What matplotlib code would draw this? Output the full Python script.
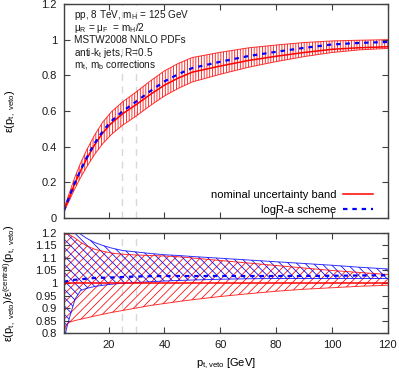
import matplotlib
matplotlib.use("Agg")
import matplotlib.pyplot as plt

plt.rcParams['font.family'] = ['Liberation Sans', 'DejaVu Sans']
plt.rcParams['mathtext.default'] = 'regular'
plt.rcParams['hatch.linewidth'] = 0.55

# -------------------------------
# DATA
# -------------------------------
pt = [4, 5, 6, 8, 10, 12, 15, 18, 21, 25, 30, 35, 40, 45, 50, 60, 70, 80, 90, 100, 110, 120]

# top panel: jet-veto efficiency
eff_central = [0.040, 0.080, 0.118, 0.196, 0.265, 0.327, 0.410, 0.478, 0.531, 0.584, 0.637,
               0.693, 0.745, 0.785, 0.818, 0.852, 0.883, 0.907, 0.928, 0.946, 0.955, 0.960]
eff_hi = [0.048, 0.096, 0.141, 0.231, 0.308, 0.376, 0.465, 0.539, 0.595, 0.651, 0.708,
          0.769, 0.825, 0.867, 0.900, 0.929, 0.954, 0.970, 0.984, 0.993, 0.997, 1.000]
eff_lo = [0.032, 0.067, 0.099, 0.167, 0.227, 0.281, 0.356, 0.418, 0.468, 0.520, 0.573,
          0.631, 0.684, 0.727, 0.763, 0.806, 0.845, 0.877, 0.905, 0.928, 0.943, 0.951]
eff_logra = [0.040, 0.081, 0.119, 0.199, 0.269, 0.333, 0.418, 0.488, 0.543, 0.598, 0.654,
             0.712, 0.766, 0.807, 0.841, 0.876, 0.908, 0.932, 0.954, 0.973, 0.982, 0.987]

# bottom panel: ratio to central
ratio_hi = [1.195, 1.195, 1.193, 1.180, 1.163, 1.150, 1.135, 1.127, 1.120, 1.115, 1.112,
            1.110, 1.108, 1.105, 1.100, 1.090, 1.080, 1.070, 1.060, 1.050, 1.042, 1.034]
ratio_lo = [0.800, 0.835, 0.843, 0.850, 0.855, 0.860, 0.868, 0.875, 0.882, 0.890, 0.900,
            0.910, 0.918, 0.926, 0.933, 0.946, 0.957, 0.967, 0.975, 0.981, 0.987, 0.991]
logra_hi = [1.400, 1.330, 1.280, 1.220, 1.195, 1.180, 1.162, 1.150, 1.140, 1.130, 1.124,
            1.118, 1.113, 1.110, 1.106, 1.099, 1.092, 1.085, 1.078, 1.071, 1.063, 1.056]
logra_lo = [0.760, 0.820, 0.860, 0.935, 0.970, 0.978, 0.986, 0.991, 0.995, 0.999, 1.002,
            1.005, 1.008, 1.010, 1.012, 1.015, 1.017, 1.018, 1.018, 1.018, 1.018, 1.018]
logra_mid = [1.005, 1.007, 1.010, 1.013, 1.015, 1.017, 1.020, 1.021, 1.022, 1.024, 1.026,
             1.027, 1.028, 1.028, 1.028, 1.028, 1.028, 1.028, 1.028, 1.029, 1.030, 1.031]
ratio_one = [1.0] * len(pt)

veto_lines = [25, 30]

info_lines = [
    "pp, 8 TeV, m$_H$ = 125 GeV",
    "μ$_R$ = μ$_F$  = m$_H$/2",
    "MSTW2008 NNLO PDFs",
    "anti-k$_t$ jets, R=0.5",
    "m$_t$, m$_b$ corrections",
]

RED = "#ff0000"
BLUE = "#0000ff"
FRAME = "#404040"

fig = plt.figure(figsize=(3.99, 3.71), dpi=100)
ax1 = fig.add_axes([0.160, 0.4124, 0.812, 0.5768])
ax2 = fig.add_axes([0.160, 0.1024, 0.812, 0.2696])

for ax in (ax1, ax2):
    for v in veto_lines:
        ax.axvline(v, color="#d8d8d8", lw=1.0, ls=(0, (5, 4)), zorder=0)
    ax.set_xlim(4, 120)
    ax.set_xticks([20, 40, 60, 80, 100, 120])
    ax.tick_params(direction="in", top=True, right=True, length=4, width=0.8,
                   color=FRAME, labelsize=8, labelcolor="#1a1a1a", pad=5)
    for s in ax.spines.values():
        s.set_color(FRAME)
        s.set_linewidth(1.0)

# -------------------------------
# TOP PANEL
# -------------------------------
ax1.fill_between(pt, eff_lo, eff_hi, facecolor="none", edgecolor=RED,
                 hatch="||||||", linewidth=0)
ax1.plot(pt, eff_hi, color=RED, lw=0.7, alpha=0.8)
ax1.plot(pt, eff_lo, color=RED, lw=0.7, alpha=0.8)
l1, = ax1.plot(pt, eff_central, color=RED, lw=1.1)
l2, = ax1.plot(pt, eff_logra, color=BLUE, lw=1.6, ls=(0, (2, 2.2)))
ax1.set_ylim(0, 1.2)
ax1.set_yticks([0, 0.2, 0.4, 0.6, 0.8, 1.0, 1.2])
ax1.set_yticklabels(["0", "0.2", "0.4", "0.6", "0.8", "1", "1.2"])
ax1.tick_params(labelbottom=False)
ax1.set_ylabel("ε(p$_{t,\\ veto}$)", fontsize=8)
ax1.yaxis.set_label_coords(-0.14, 0.5)

for i, line in enumerate(info_lines):
    ax1.text(0.031, 0.949 - i * 0.0593, line, transform=ax1.transAxes,
             fontsize=7.2, va="center", ha="left", color="#1a1a1a")

ax1.legend([l1, l2], ["nominal uncertainty band", "logR-a scheme"],
           loc="lower right", bbox_to_anchor=(0.955, 0.015), frameon=False,
           markerfirst=False, fontsize=8, handlelength=2.7, handletextpad=0.6,
           labelspacing=0.45, borderpad=0, borderaxespad=0)

# -------------------------------
# BOTTOM PANEL
# -------------------------------
ax2.fill_between(pt, ratio_lo, ratio_hi, facecolor="none", edgecolor=RED,
                 hatch="////", linewidth=0)
ax2.fill_between(pt, logra_lo, logra_hi, facecolor="none", edgecolor=BLUE,
                 hatch="\\\\\\\\", linewidth=0)
ax2.plot(pt, ratio_hi, color=RED, lw=0.7, alpha=0.8)
ax2.plot(pt, ratio_lo, color=RED, lw=0.7, alpha=0.8)
ax2.plot(pt, logra_hi, color=BLUE, lw=0.7, alpha=0.8)
ax2.plot(pt, logra_lo, color=BLUE, lw=0.7, alpha=0.8)
ax2.plot(pt, ratio_one, color=RED, lw=1.1)
ax2.plot(pt, logra_mid, color=BLUE, lw=1.6, ls=(0, (2, 2.2)))
ax2.set_ylim(0.8, 1.2)
ax2.set_yticks([0.8, 0.85, 0.9, 0.95, 1.0, 1.05, 1.1, 1.15, 1.2])
ax2.set_yticklabels(["0.8", "0.85", "0.9", "0.95", "1", "1.05", "1.1", "1.15", "1.2"])
ax2.set_ylabel("ε(p$_{t,\\ veto}$)/ε$^{(central)}$(p$_{t,\\ veto}$)", fontsize=8)
ax2.yaxis.set_label_coords(-0.14, 0.5)
ax2.set_xlabel("p$_{t,veto}$ [GeV]", fontsize=8, labelpad=5)

fig.savefig("out.png", dpi=100)
